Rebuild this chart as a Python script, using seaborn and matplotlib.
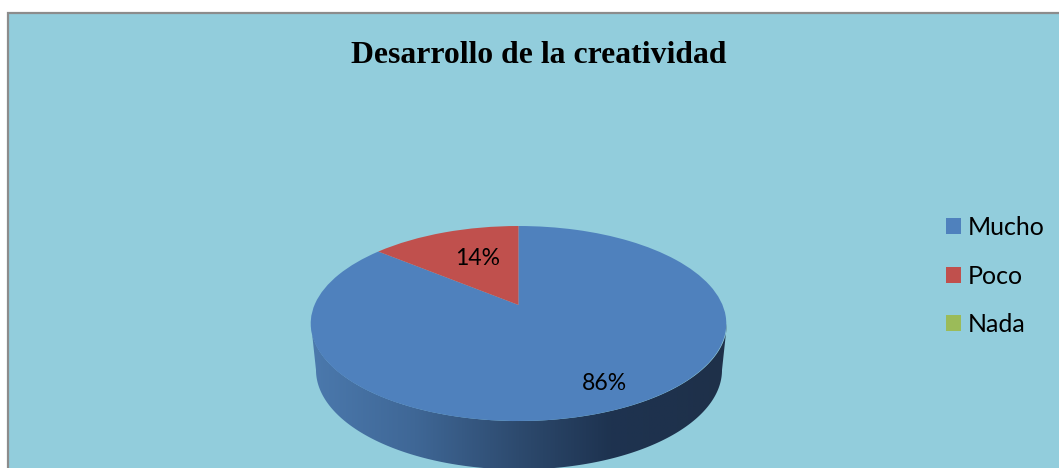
import numpy as np
import matplotlib
matplotlib.use("Agg")
import matplotlib.pyplot as plt
import matplotlib.transforms as mtransforms
from matplotlib.colors import LinearSegmentedColormap
from matplotlib.patches import Rectangle, Polygon
import seaborn as sns

categories = ["Mucho", "Poco", "Nada"]
values = [86, 14, 0]
title = "Desarrollo de la creatividad"
colors = ["#4F81BD", "#C0504D", "#9BBB59"]
label_fx = [0.85, 0.52, 0.5]
label_fy = [0.80, 0.60, 0.5]

BG = "#92CDDC"
W, H = 1059, 468

sns.set_theme(style="white", palette=sns.color_palette(colors))
plt.rcParams["font.family"] = ["Lato", "DejaVu Sans"]


class Perspective(mtransforms.Transform):
    """Tilts the flat unit-circle pie into the page, in pixel coordinates."""
    input_dims = output_dims = 2
    cx, cy, a, b, k = 518.5, 305.0, 204.0, 94.0, 0.19

    def transform_non_affine(self, xy):
        xy = np.asarray(xy, dtype=float)
        w = 1 + self.k * xy[:, 1]
        return np.column_stack([self.cx + self.a * xy[:, 0] / w,
                                self.cy - self.b * xy[:, 1] / w])


fig = plt.figure(figsize=(W / 100, H / 100), dpi=100, facecolor="white")
ax = fig.add_axes([0, 0, 1, 1])

wedges, _, autotexts = ax.pie(
    values, colors=colors, startangle=90, counterclock=False,
    autopct=lambda p: f"{p:.0f}%" if p > 0 else "", pctdistance=1.0,
    wedgeprops=dict(linewidth=0), textprops=dict(fontsize=16.6, color="black"),
)
ax.set_aspect("auto")
ax.set_xlim(0, W)
ax.set_ylim(H, 0)
ax.set_xticks([])
ax.set_yticks([])
ax.set_frame_on(False)

persp = Perspective() + ax.transData
for wedge in wedges:
    wedge.set_transform(persp)
    wedge.set_zorder(4)
for text, fx, fy in zip(autotexts, label_fx, label_fy):
    x, y = text.get_position()
    text.set_position((x * fx, y * fy))
    text.set_transform(persp)
    text.set_zorder(5)

# chart area
ax.add_patch(Rectangle((8, 12.5), W, H, facecolor=BG, edgecolor="#8C8C8C",
                       linewidth=1.6, zorder=0))

# side wall of the disc
t = np.linspace(0, np.pi, 200)
top_rim = np.column_stack([519 - 208 * np.cos(t), 323.5 + 97.5 * np.sin(t)])
low_rim = np.column_stack([519 - 203 * np.cos(t), 370 + 99.5 * np.sin(t)])
side = Polygon(np.vstack([top_rim, low_rim[::-1]]), closed=True,
               transform=ax.transData, facecolor="none", edgecolor="none")
ax.add_patch(side)
cmap = LinearSegmentedColormap.from_list(
    "side", [(0, "#4B79AD"), (0.25, "#3F6796"), (0.5, "#2D4A6E"),
             (0.72, "#1E3350"), (1, "#1E3049")])
im = ax.imshow(np.linspace(0, 1, 256)[None, :], cmap=cmap, aspect="auto",
               extent=(311, 727, 480, 320), zorder=2)
im.set_clip_path(side)
ax.set_xlim(0, W)
ax.set_ylim(H, 0)

ax.set_title(title, x=538.5 / W, y=1 - 63 / H, pad=0, fontsize=22.9, fontweight="bold",
             family="Liberation Serif", color="black")

fs = 18
leg = ax.legend(wedges, categories, loc="upper left", bbox_to_anchor=(938.5 / W, 1 - 208.5 / H),
                frameon=False, fontsize=fs, handlelength=10.8 / fs, handleheight=10.8 / fs,
                handletextpad=0.28, labelspacing=1.02, borderpad=0.3, borderaxespad=0)
for txt in leg.get_texts():
    txt.set_color("black")

fig.savefig("out.png", dpi=100, facecolor="white")
